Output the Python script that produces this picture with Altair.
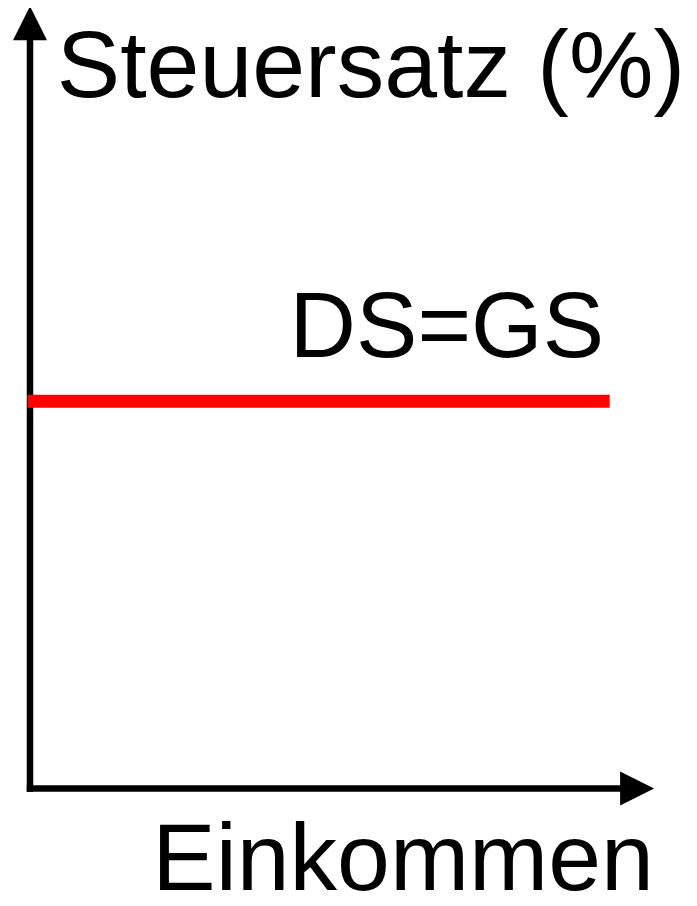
import altair as alt
import pandas as pd

# Data (in chart units: x = Einkommen 0..100, y = Steuersatz 0..100)
axis_names = ["x-Achse", "y-Achse"]
axis_x0 = [0, 0]
axis_x1 = [94.9, 0]
axis_y0 = [0, 0]
axis_y1 = [0, 95.9]

arrow_names = ["x", "y"]
arrow_x = [97.3, 0]
arrow_y = [0, 97.8]
arrow_shape = ["M1,0L-1,-1L-1,1Z", "M0,-1L1,1L-1,1Z"]

line_label = ["DS=GS"]
line_x0 = [-0.4]
line_x1 = [92.9]
line_y = [49.5]

axis_titles = ["Steuersatz (%)", "Einkommen"]
axis_title_x = [4.3, 19.6]
axis_title_y = [88.4, -13.0]

curve_labels = ["DS=GS"]
curve_label_x = [41.6]
curve_label_y = [55.1]

axes_df = pd.DataFrame({"name": axis_names, "x": axis_x0, "x2": axis_x1, "y": axis_y0, "y2": axis_y1})
arrows_df = pd.DataFrame({"name": arrow_names, "x": arrow_x, "y": arrow_y, "shape": arrow_shape})
line_df = pd.DataFrame({"name": line_label, "x": line_x0, "x2": line_x1, "y": line_y})
titles_df = pd.DataFrame({"label": axis_titles, "x": axis_title_x, "y": axis_title_y})
labels_df = pd.DataFrame({"label": curve_labels, "x": curve_label_x, "y": curve_label_y})

xs = alt.Scale(domain=[0, 100], range=[22, 646], zero=False, nice=False)
ys = alt.Scale(domain=[0, 100], range=[780.5, -2], zero=False, nice=False)

axes = alt.Chart(axes_df).mark_rule(color="black", strokeWidth=6.5, strokeCap="square").encode(
    x=alt.X("x:Q", scale=xs, axis=None),
    x2="x2:Q",
    y=alt.Y("y:Q", scale=ys, axis=None),
    y2="y2:Q",
)

arrows = alt.Chart(arrows_df).mark_point(filled=True, color="black", size=1156, opacity=1, strokeWidth=0).encode(
    x=alt.X("x:Q", scale=xs, axis=None),
    y=alt.Y("y:Q", scale=ys, axis=None),
    shape=alt.Shape("shape:N", scale=None, legend=None),
)

red = alt.Chart(line_df).mark_rule(color="#ff0000", strokeWidth=13, strokeCap="butt").encode(
    x=alt.X("x:Q", scale=xs, axis=None),
    x2="x2:Q",
    y=alt.Y("y:Q", scale=ys, axis=None),
)

titles = alt.Chart(titles_df).mark_text(
    font="Liberation Sans", fontSize=95, align="left", baseline="alphabetic", color="black"
).encode(
    x=alt.X("x:Q", scale=xs, axis=None),
    y=alt.Y("y:Q", scale=ys, axis=None),
    text="label:N",
)

labels = alt.Chart(labels_df).mark_text(
    font="Liberation Sans", fontSize=92, align="left", baseline="alphabetic", color="black"
).encode(
    x=alt.X("x:Q", scale=xs, axis=None),
    y=alt.Y("y:Q", scale=ys, axis=None),
    text="label:N",
)

chart = alt.layer(axes, arrows, red, titles, labels).properties(
    width=681, height=890, autosize=alt.AutoSizeParams(type="none"), padding=0, background="white"
).configure_view(stroke=None)

chart.save("out.html", embed_options={"renderer": "svg", "actions": False})
